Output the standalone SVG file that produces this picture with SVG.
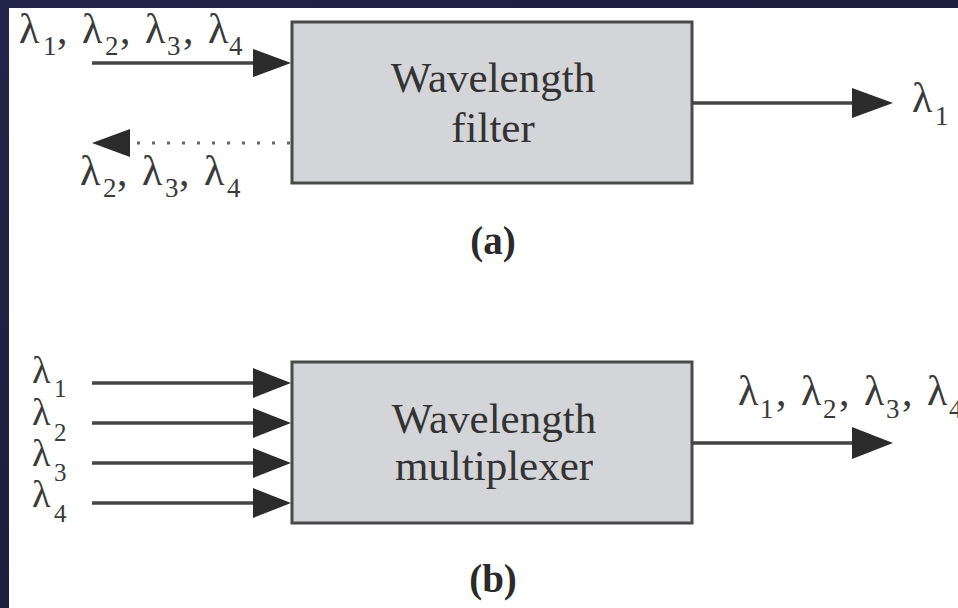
<svg xmlns="http://www.w3.org/2000/svg" width="958" height="608" viewBox="0 0 958 608">
  <defs>
    <style>
      .lam { font-family: "Liberation Serif", "DejaVu Serif", serif; font-size: 42px; fill: #3a3a3a; }
      .sub { font-family: "Liberation Serif", "DejaVu Serif", serif; font-size: 27px; fill: #3a3a3a; }
      .lams { font-family: "Liberation Serif", "DejaVu Serif", serif; font-size: 38px; fill: #3a3a3a; }
      .subs { font-family: "Liberation Serif", "DejaVu Serif", serif; font-size: 25px; fill: #3a3a3a; }
      .boxtxt { font-family: "Liberation Serif", "DejaVu Serif", serif; font-size: 43px; fill: #333; text-anchor: middle; }
      .cap { font-family: "Liberation Serif", "DejaVu Serif", serif; font-size: 39px; font-weight: bold; fill: #2a2a2a; text-anchor: middle; }
      .box { fill: #d3d5d8; stroke: #4a4a4a; stroke-width: 3; }
      .line { stroke: #444; stroke-width: 3.5; fill: none; }
      .dots { stroke: #666; stroke-width: 3; stroke-dasharray: 3 12; fill: none; }
      .head { fill: #2b2b2b; }
    </style>
    <linearGradient id="bg" x1="0" y1="0" x2="1" y2="1">
      <stop offset="0" stop-color="#22254a"/>
      <stop offset="1" stop-color="#15172e"/>
    </linearGradient>
  </defs>

  <rect x="0" y="0" width="958" height="608" fill="url(#bg)"/>
  <rect x="9" y="8" width="949" height="600" fill="#ffffff"/>

  <g id="filter">
    <rect class="box" x="292" y="22" width="400" height="161"/>
    <text class="boxtxt" x="493" y="92">Wavelength</text>
    <text class="boxtxt" x="493" y="142">filter</text>
  </g>

  <g id="multiplexer">
    <rect class="box" x="292" y="362" width="400" height="161"/>
    <text class="boxtxt" x="494" y="433">Wavelength</text>
    <text class="boxtxt" x="494" y="480">multiplexer</text>
  </g>

  <g id="connectors">
    <!-- (a) input -->
    <line class="line" x1="92" y1="63" x2="262" y2="63"/>
    <polygon class="head" points="291,63 253,49 253,77"/>
    <!-- (a) reflected, dotted -->
    <line class="dots" x1="290" y1="143" x2="128" y2="143"/>
    <polygon class="head" points="92,143 130,129 130,157"/>
    <!-- (a) output -->
    <line class="line" x1="692" y1="103" x2="862" y2="103"/>
    <polygon class="head" points="893,103 852,88 852,118"/>
    <!-- (b) inputs -->
    <line class="line" x1="92" y1="383" x2="262" y2="383"/>
    <polygon class="head" points="291,383 253,368 253,398"/>
    <line class="line" x1="92" y1="423" x2="262" y2="423"/>
    <polygon class="head" points="291,423 253,408 253,438"/>
    <line class="line" x1="92" y1="463" x2="262" y2="463"/>
    <polygon class="head" points="291,463 253,448 253,478"/>
    <line class="line" x1="92" y1="503" x2="262" y2="503"/>
    <polygon class="head" points="291,503 253,488 253,518"/>
    <!-- (b) output -->
    <line class="line" x1="692" y1="443" x2="862" y2="443"/>
    <polygon class="head" points="893,443 852,427 852,459"/>
  </g>

  <g id="labels-a">
    <!-- top-left input label -->
    <text class="lam" x="19" y="43">λ</text><text class="sub" x="43" y="55">1</text><text class="lam" x="57" y="43">,</text>
    <text class="lam" x="82" y="43">λ</text><text class="sub" x="105" y="55">2</text><text class="lam" x="120" y="43">,</text>
    <text class="lam" x="145" y="43">λ</text><text class="sub" x="167" y="55">3</text><text class="lam" x="183" y="43">,</text>
    <text class="lam" x="208" y="43">λ</text><text class="sub" x="229" y="55">4</text>
    <!-- reflected label -->
    <text class="lam" x="80" y="185">λ</text><text class="sub" x="103" y="197">2</text><text class="lam" x="117" y="185">,</text>
    <text class="lam" x="142" y="185">λ</text><text class="sub" x="165" y="197">3</text><text class="lam" x="179" y="185">,</text>
    <text class="lam" x="204" y="185">λ</text><text class="sub" x="227" y="197">4</text>
    <!-- output label -->
    <text class="lam" x="912" y="112">λ</text><text class="sub" x="935" y="125">1</text>
    <text class="cap" x="493" y="254">(a)</text>
  </g>

  <g id="labels-b">
    <text class="lams" x="32" y="383">λ</text><text class="subs" x="54" y="397">1</text>
    <text class="lams" x="32" y="425">λ</text><text class="subs" x="54" y="441">2</text>
    <text class="lams" x="32" y="466">λ</text><text class="subs" x="54" y="481">3</text>
    <text class="lams" x="32" y="507">λ</text><text class="subs" x="54" y="522">4</text>
    <!-- output label (clipped at the right edge, as in the reference) -->
    <text class="lam" x="738" y="405">λ</text><text class="sub" x="760" y="418">1</text><text class="lam" x="776" y="405">,</text>
    <text class="lam" x="801" y="405">λ</text><text class="sub" x="823" y="418">2</text><text class="lam" x="839" y="405">,</text>
    <text class="lam" x="864" y="405">λ</text><text class="sub" x="886" y="418">3</text><text class="lam" x="902" y="405">,</text>
    <text class="lam" x="927" y="405">λ</text><text class="sub" x="949" y="418">4</text>
    <text class="cap" x="493" y="592">(b)</text>
  </g>
</svg>
